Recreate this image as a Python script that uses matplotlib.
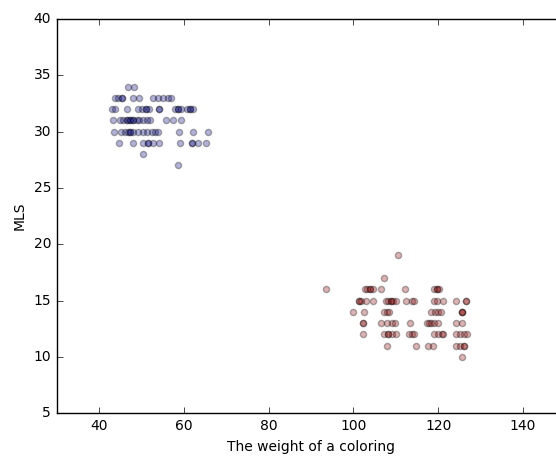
import matplotlib
matplotlib.use("Agg")
import matplotlib.pyplot as plt

# cluster 1 (blue) - weight vs MLS
blue_x = [46.7, 48.3,
          43.8, 44.5, 45.3, 45.3, 48.1, 49.5, 52.8, 54.0, 55.1, 56.2, 57.0,
          43.0, 43.8, 46.5, 49.1, 50.0, 51.1, 51.1, 51.8, 54.1, 54.1, 57.9, 58.7, 58.7, 59.2, 60.8, 61.4, 61.4, 62.2,
          43.2, 44.9, 45.7, 46.5, 46.5, 47.3, 47.3, 48.1, 48.1, 48.9, 49.5, 50.3, 51.2, 52.0, 55.7, 57.4, 59.3,
          43.4, 45.2, 46.1, 46.8, 47.3, 47.3, 48.1, 49.2, 50.3, 51.2, 52.4, 53.2, 53.9, 58.9, 62.1, 65.6,
          44.8, 47.9, 50.4, 51.5, 51.5, 52.8, 54.1, 59.1, 61.8, 61.8, 63.4, 65.2,
          50.3,
          58.5]
blue_y = [34, 34,
          33, 33, 33, 33, 33, 33, 33, 33, 33, 33, 33,
          32, 32, 32, 32, 32, 32, 32, 32, 32, 32, 32, 32, 32, 32, 32, 32, 32, 32,
          31, 31, 31, 31, 31, 31, 31, 31, 31, 31, 31, 31, 31, 31, 31, 31, 31,
          30, 30, 30, 30, 30, 30, 30, 30, 30, 30, 30, 30, 30, 30, 30, 30,
          29, 29, 29, 29, 29, 29, 29, 29, 29, 29, 29, 29,
          28,
          27]

# cluster 2 (red)
red_x = [110.6,
         107.2,
         93.5, 102.7, 103.3, 103.9, 103.9, 104.5, 106.4, 112.1, 119.0, 119.6, 119.6, 120.2,
         101.4, 101.4, 101.7, 103.0, 104.5, 107.7, 108.2, 108.8, 108.8, 109.4, 110.0, 112.5, 113.7, 114.3,
         119.1, 119.6, 121.0, 124.1, 126.5, 126.5,
         99.8, 102.5, 107.2, 107.8, 108.4, 118.4, 119.2, 120.0, 120.6, 125.7, 125.7, 125.7,
         102.2, 102.2, 106.4, 108.0, 109.0, 109.8, 113.3, 117.3, 117.9, 118.4, 119.0, 120.0, 124.2, 125.5,
         102.2, 107.2, 108.2, 108.2, 109.0, 110.0, 113.1, 113.7, 114.3, 119.1, 119.9, 120.8, 121.2,
         124.2, 125.1, 126.1, 126.7,
         108.0, 114.7, 117.6, 118.7, 124.2, 125.1, 126.1, 126.1,
         125.7]
red_y = [19,
         17,
         16, 16, 16, 16, 16, 16, 16, 16, 16, 16, 16, 16,
         15, 15, 15, 15, 15, 15, 15, 15, 15, 15, 15, 15, 15, 15,
         15, 15, 15, 15, 15, 15,
         14, 14, 14, 14, 14, 14, 14, 14, 14, 14, 14, 14,
         13, 13, 13, 13, 13, 13, 13, 13, 13, 13, 13, 13, 13, 13,
         12, 12, 12, 12, 12, 12, 12, 12, 12, 12, 12, 12, 12,
         12, 12, 12, 12,
         11, 11, 11, 11, 11, 11, 11, 11,
         10]

plt.style.use("classic")
plt.rcParams["font.size"] = 10
fig = plt.figure(figsize=(5.56, 4.59), dpi=100, facecolor="white")
# axes runs past the right edge (x limit 150 is cut off as in the reference)
ax = fig.add_axes([0.102, 0.100, 0.915, 0.8586])

ax.scatter(blue_x, blue_y, s=20, c="navy", alpha=0.3, edgecolors="black")
ax.scatter(red_x, red_y, s=20, c="darkred", alpha=0.3, edgecolors="black")

ax.set_xlim(30, 150)
ax.set_ylim(5, 40)
ax.set_xticks([40, 60, 80, 100, 120, 140])
ax.tick_params(labelsize=10)
ax.set_xlabel("The weight of a coloring", fontsize=10)
ax.set_ylabel("MLS", fontsize=10)

fig.savefig("out.png", dpi=100, facecolor="white")
